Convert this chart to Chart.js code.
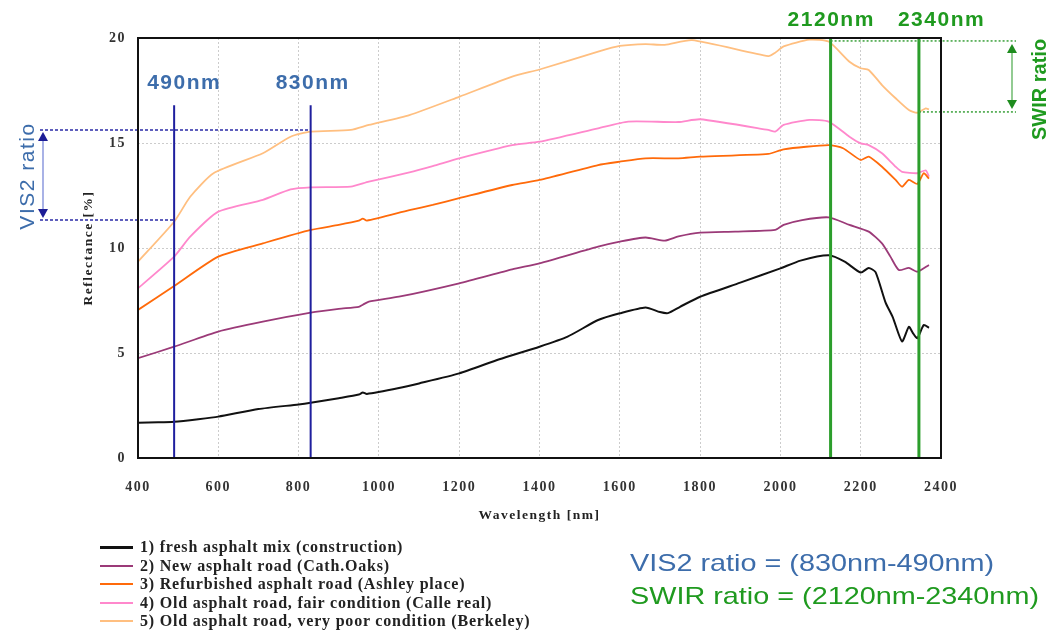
<!DOCTYPE html>
<html>
<head>
<meta charset="utf-8">
<title>Asphalt road reflectance spectra</title>
<script src="https://cdn.jsdelivr.net/npm/chart.js@4.4.1/dist/chart.umd.min.js"></script>
<style>
    body { margin: 0; background: #fff; }
    #wrap { position: relative; width: 1056px; height: 630px; overflow: hidden; }
    #reflectanceChart { position: absolute; left: 0; top: 0; }
    .legend {
        position: absolute; left: 100px; top: 538px;
        font: bold 16px "Liberation Serif", "Times New Roman", serif;
        letter-spacing: 0.8px; color: #222;
    }
    .legend div { height: 18.5px; display: flex; align-items: center; white-space: nowrap; }
    .legend span.swatch { display: inline-block; width: 33px; height: 2px; margin-right: 7px; }
    .ratios {
        position: absolute; left: 630px; top: 546px;
        font: 24px "Liberation Sans", Arial, sans-serif;
        line-height: 33px; white-space: nowrap;
        transform: scaleX(1.2); transform-origin: left top;
    }
</style>
</head>
<body>
<div id="wrap">
    <canvas id="reflectanceChart" width="1056" height="630"></canvas>
    <div class="legend" id="legend"></div>
    <div class="ratios">
        <div style="color:#3d6dab">VIS2 ratio = (830nm-490nm)</div>
        <div style="color:#1f9a1f">SWIR ratio = (2120nm-2340nm)</div>
    </div>
</div>
<script>
// Series names, as in the legend
const seriesLabels = [
    '1) fresh asphalt mix (construction)',
    '2) New asphalt road (Cath.Oaks)',
    '3) Refurbished asphalt road (Ashley place)',
    '4) Old asphalt road, fair condition (Calle real)',
    '5) Old asphalt road, very poor condition (Berkeley)'
];
const seriesColors = ['#111111', '#9b3a78', '#ff6a0a', '#ff88cc', '#ffbf80'];

// Spectra: wavelength [nm] and reflectance [%]
const freshNm  = [400, 450, 490, 550, 600, 700, 800, 830, 900, 950, 960, 970, 1050, 1100, 1200, 1300, 1400, 1470, 1546, 1600, 1664, 1700, 1720, 1750, 1800, 1900, 2000, 2050, 2120, 2160, 2200, 2220, 2237, 2262, 2280, 2303, 2320, 2330, 2341, 2357, 2370];
const freshPct = [1.68, 1.70, 1.73, 1.85, 1.97, 2.33, 2.55, 2.63, 2.85, 3.02, 3.12, 3.05, 3.33, 3.55, 4.03, 4.70, 5.30, 5.78, 6.57, 6.89, 7.17, 6.95, 6.90, 7.20, 7.68, 8.35, 9.03, 9.40, 9.65, 9.35, 8.83, 9.05, 8.85, 7.40, 6.70, 5.55, 6.25, 5.95, 5.70, 6.33, 6.20];

const newNm  = [400, 490, 600, 711, 830, 900, 950, 960, 975, 1050, 1200, 1332, 1400, 1546, 1600, 1664, 1712, 1746, 1800, 1887, 1987, 2008, 2054, 2120, 2172, 2220, 2253, 2274, 2295, 2320, 2341, 2370];
const newPct = [4.75, 5.30, 6.02, 6.49, 6.92, 7.10, 7.20, 7.30, 7.45, 7.68, 8.32, 8.98, 9.27, 10.06, 10.30, 10.50, 10.35, 10.55, 10.73, 10.78, 10.86, 11.10, 11.33, 11.46, 11.10, 10.78, 10.22, 9.59, 8.95, 9.05, 8.87, 9.19];

const refurbNm  = [400, 490, 600, 711, 830, 900, 950, 960, 970, 1076, 1134, 1200, 1332, 1400, 1546, 1600, 1664, 1746, 1800, 1970, 2008, 2120, 2156, 2200, 2220, 2253, 2287, 2303, 2320, 2341, 2357, 2370];
const refurbPct = [7.05, 8.19, 9.59, 10.22, 10.86, 11.10, 11.30, 11.40, 11.30, 11.80, 12.05, 12.37, 13.00, 13.24, 13.95, 14.11, 14.27, 14.27, 14.35, 14.48, 14.70, 14.90, 14.75, 14.19, 14.35, 13.87, 13.24, 12.92, 13.24, 13.05, 13.56, 13.30];

const fairNm  = [400, 490, 530, 600, 711, 780, 830, 930, 975, 1076, 1134, 1200, 1332, 1400, 1546, 1621, 1746, 1800, 1970, 1987, 2008, 2072, 2120, 2172, 2200, 2220, 2253, 2287, 2303, 2341, 2362, 2370];
const fairPct = [8.08, 9.59, 10.54, 11.73, 12.29, 12.79, 12.89, 12.92, 13.16, 13.60, 13.90, 14.27, 14.90, 15.06, 15.70, 16.02, 16.00, 16.13, 15.62, 15.54, 15.86, 16.10, 16.02, 15.30, 14.98, 14.90, 14.51, 13.87, 13.63, 13.56, 13.70, 13.40];

const poorNm  = [400, 490, 530, 588, 711, 780, 830, 930, 975, 1076, 1200, 1332, 1400, 1546, 1600, 1664, 1712, 1780, 1970, 1987, 2008, 2072, 2120, 2172, 2200, 2220, 2253, 2287, 2320, 2341, 2362, 2370];
const poorPct = [9.35, 11.25, 12.44, 13.56, 14.51, 15.30, 15.54, 15.62, 15.86, 16.33, 17.20, 18.16, 18.50, 19.35, 19.62, 19.71, 19.67, 19.90, 19.14, 19.30, 19.60, 19.92, 19.83, 18.87, 18.56, 18.48, 17.76, 17.13, 16.57, 16.44, 16.65, 16.60];

// Ratio markers: band positions [nm] and the reflectance levels the arrows span [%]
const visBands = [490, 830];
const visBandLabels = ['490nm', '830nm'];
const visLevels = [15.62, 11.33];
const swirBands = [2125, 2345];
const swirBandLabels = ['2120nm', '2340nm'];
const swirLevels = [19.86, 16.48];

document.addEventListener('DOMContentLoaded', function() {
    const canvas = document.getElementById('reflectanceChart');
    if (!canvas) return;

    const seriesNm = [freshNm, newNm, refurbNm, fairNm, poorNm];
    const seriesPct = [freshPct, newPct, refurbPct, fairPct, poorPct];

    const datasets = seriesLabels.map((label, i) => ({
        label: label,
        data: seriesNm[i].map((nm, j) => ({ x: nm, y: seriesPct[i][j] })),
        borderColor: seriesColors[i],
        borderWidth: i === 0 ? 2 : 1.8,
        pointRadius: 0,
        tension: 0.2,
        fill: false
    }));

    // Build the legend as plain html
    const legendBox = document.getElementById('legend');
    seriesLabels.forEach((label, i) => {
        const row = document.createElement('div');
        const swatch = document.createElement('span');
        swatch.className = 'swatch';
        swatch.style.background = seriesColors[i];
        if (i === 0) swatch.style.height = '3px';
        row.appendChild(swatch);
        row.appendChild(document.createTextNode(label));
        legendBox.appendChild(row);
    });

    function arrow(ctx, x, y1, y2, lineColor, headColor) {
        ctx.save();
        ctx.setLineDash([]);
        ctx.strokeStyle = lineColor;
        ctx.lineWidth = 1.2;
        ctx.beginPath();
        ctx.moveTo(x, y1 + 4);
        ctx.lineTo(x, y2 - 4);
        ctx.stroke();
        ctx.fillStyle = headColor;
        ctx.beginPath();
        ctx.moveTo(x, y1);
        ctx.lineTo(x - 5, y1 + 9);
        ctx.lineTo(x + 5, y1 + 9);
        ctx.fill();
        ctx.beginPath();
        ctx.moveTo(x, y2);
        ctx.lineTo(x - 5, y2 - 9);
        ctx.lineTo(x + 5, y2 - 9);
        ctx.fill();
        ctx.restore();
    }

    function hline(ctx, x1, x2, y, color, dash) {
        ctx.save();
        ctx.strokeStyle = color;
        ctx.lineWidth = 1.5;
        ctx.setLineDash(dash);
        ctx.beginPath();
        ctx.moveTo(x1, y);
        ctx.lineTo(x2, y);
        ctx.stroke();
        ctx.restore();
    }

    function vline(ctx, x, y1, y2, color, width) {
        ctx.save();
        ctx.strokeStyle = color;
        ctx.lineWidth = width;
        ctx.setLineDash([]);
        ctx.beginPath();
        ctx.moveTo(x, y1);
        ctx.lineTo(x, y2);
        ctx.stroke();
        ctx.restore();
    }

    function rotatedText(ctx, text, x, y, font, color, spacing) {
        ctx.save();
        ctx.translate(x, y);
        ctx.rotate(-Math.PI / 2);
        ctx.font = font;
        ctx.letterSpacing = spacing;
        ctx.fillStyle = color;
        ctx.textAlign = 'center';
        ctx.textBaseline = 'middle';
        ctx.fillText(text, 0, 0);
        ctx.restore();
    }

    // Band lines, ratio arrows and the frame round the plot
    const ratioMarkers = {
        id: 'ratioMarkers',
        beforeDraw(chart) {
            chart.ctx.letterSpacing = '1.5px';
        },
        afterDatasetsDraw(chart) {
            const ctx = chart.ctx;
            const xs = chart.scales.x;
            const ys = chart.scales.y;
            const area = chart.chartArea;

            // VIS2
            const xa = xs.getPixelForValue(visBands[0]);
            const xb = xs.getPixelForValue(visBands[1]);
            const yHigh = ys.getPixelForValue(visLevels[0]);
            const yLow = ys.getPixelForValue(visLevels[1]);
            hline(ctx, 40, xb, yHigh, '#2b2ba6', [3, 2]);
            hline(ctx, 40, xa, yLow, '#2b2ba6', [3, 2]);
            arrow(ctx, 43, yHigh + 2, yLow - 2, '#6f7fd6', '#1c1c96');
            rotatedText(ctx, 'VIS2 ratio', 28, (yHigh + yLow) / 2 + 1, '21px "Liberation Sans", Arial, sans-serif', '#3d6dab', '1.5px');

            const visTop = ys.getPixelForValue(16.8);
            vline(ctx, xa, visTop, area.bottom, '#1f1f9e', 2);
            vline(ctx, xb, visTop, area.bottom, '#1f1f9e', 2);

            ctx.save();
            ctx.font = 'bold 21px "Liberation Sans", Arial, sans-serif';
            ctx.fillStyle = '#3d6dab';
            ctx.textAlign = 'left';
            ctx.textBaseline = 'middle';
            ctx.fillText(visBandLabels[0], xa - 27, area.top + 45);
            ctx.fillText(visBandLabels[1], xb - 35, area.top + 45);
            ctx.restore();

            // SWIR
            const xc = xs.getPixelForValue(swirBands[0]);
            const xd = xs.getPixelForValue(swirBands[1]);
            const yTop = ys.getPixelForValue(swirLevels[0]);
            const yBot = ys.getPixelForValue(swirLevels[1]);
            vline(ctx, xc, area.top, area.bottom, '#2c9e2c', 3);
            vline(ctx, xd, area.top, area.bottom, '#2c9e2c', 3);
            hline(ctx, xc, 1016, yTop, '#3aa03a', [2, 2]);
            hline(ctx, xd, 1016, yBot, '#3aa03a', [2, 2]);
            arrow(ctx, 1012, yTop + 3, yBot - 3, '#4aa84a', '#1e8c1e');
            rotatedText(ctx, 'SWIR ratio', 1040, (yTop + yBot) / 2 + 13, 'bold 20px "Liberation Sans", Arial, sans-serif', '#1f9a1f', '0px');

            ctx.save();
            ctx.font = 'bold 21px "Liberation Sans", Arial, sans-serif';
            ctx.fillStyle = '#1f9a1f';
            ctx.textAlign = 'left';
            ctx.textBaseline = 'middle';
            ctx.fillText(swirBandLabels[0], xc - 43, 20);
            ctx.fillText(swirBandLabels[1], xd - 21, 20);
            ctx.restore();
        },
        afterDraw(chart) {
            const ctx = chart.ctx;
            const area = chart.chartArea;
            ctx.save();
            ctx.setLineDash([]);
            ctx.strokeStyle = '#111';
            ctx.lineWidth = 2;
            ctx.strokeRect(area.left, area.top, area.right - area.left, area.bottom - area.top);
            ctx.restore();
        }
    };

    const tickFont = { family: '"Liberation Serif", "Times New Roman", serif', size: 14, weight: 'bold' };
    const titleFont = { family: '"Liberation Serif", "Times New Roman", serif', size: 13.5, weight: 'bold' };
    const plainTick = function(value) { return String(value); };

    new Chart(canvas.getContext('2d'), {
        type: 'line',
        data: { datasets: datasets },
        options: {
            responsive: false,
            animation: false,
            layout: { padding: { left: 78, right: 115, top: 38, bottom: 106 } },
            plugins: {
                legend: { display: false },
                tooltip: { enabled: false }
            },
            scales: {
                x: {
                    type: 'linear',
                    min: 400,
                    max: 2400,
                    ticks: { stepSize: 200, color: '#333', font: tickFont, padding: 21, callback: plainTick },
                    grid: { color: '#cccccc', drawTicks: false },
                    border: { display: false, dash: [2, 2] },
                    title: { display: true, text: 'Wavelength [nm]', color: '#222', font: titleFont, padding: { top: 0, bottom: 0 } },
                    afterFit: function(scale) { scale.height = 66; }
                },
                y: {
                    min: 0,
                    max: 20,
                    ticks: { stepSize: 5, color: '#333', font: tickFont, padding: 12, callback: plainTick },
                    grid: { color: '#cccccc', drawTicks: false },
                    border: { display: false, dash: [2, 2] },
                    title: { display: true, text: 'Reflectance [%]', color: '#222', font: titleFont, padding: { top: 2, bottom: 0 } },
                    afterFit: function(scale) { scale.width = 60; }
                }
            }
        },
        plugins: [ratioMarkers]
    });
});
</script>
</body>
</html>
